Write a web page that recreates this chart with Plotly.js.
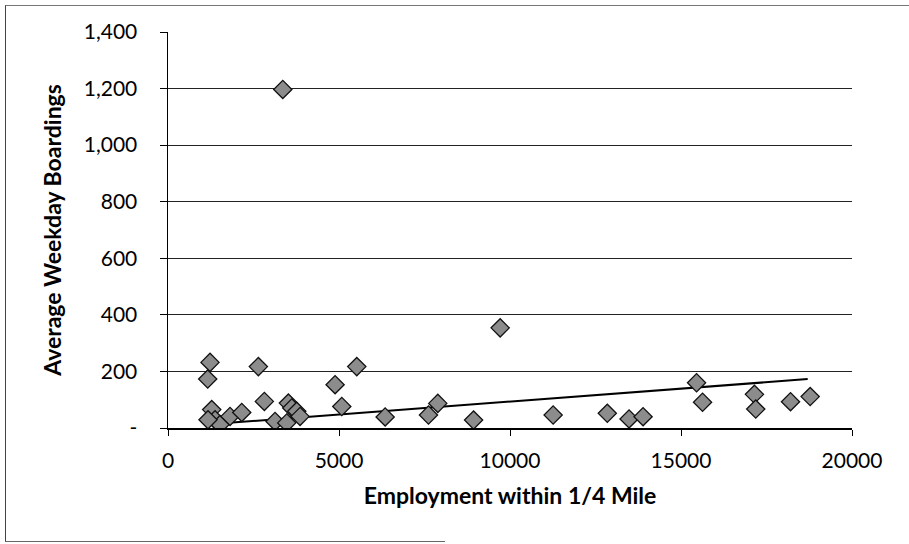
<!DOCTYPE html>
<html>
<head>
<meta charset="utf-8">
<script src="https://cdn.plot.ly/plotly-3.0.1.min.js"></script>
<style>
html,body{margin:0;padding:0;background:#fff;}
#wrap{position:relative;width:909px;height:544px;}
#chart{width:909px;height:544px;}
#frame{position:absolute;left:5px;top:5px;width:904px;height:537px;border-left:1px solid #444;border-top:1px solid #777;box-sizing:border-box;pointer-events:none;}
#bottom{position:absolute;left:5px;top:541px;width:440px;height:0;border-top:1px solid #666;pointer-events:none;}
</style>
</head>
<body>
<div id="wrap"><div id="chart"></div><div id="frame"></div><div id="bottom"></div></div>
<script>
// Employment within 1/4 mile (x) vs average weekday boardings (y)
const employment = [3356, 9713, 1229, 1161, 2642, 5520, 4886, 5081, 2818, 6349,
  1278, 1375, 1521, 1814, 2156, 1170, 3130, 3520, 3619, 3765, 3862, 3472,
  7616, 7889, 8935, 11261, 12845, 13481, 13891, 15455, 15630, 17147, 17185, 18202, 18777];
const boardings = [1197, 354, 232, 173, 217, 217, 153, 76, 94, 39,
  65, 29, 12, 41, 55, 29, 23, 88, 71, 59, 41, 18,
  46, 87, 28, 46, 52, 32, 40, 160, 91, 119, 67, 93, 111];
// Linear trendline endpoints
const trendX = [1082, 18705];
const trendY = [12, 173];
const yTickVals = [0, 200, 400, 600, 800, 1000, 1200, 1400];
const yTickText = ['-', '200', '400', '600', '800', '1,000', '1,200', '1,400'];
const xTickVals = [0, 5000, 10000, 15000, 20000];
const xTickText = ['0', '5000', '10000', '15000', '20000'];

const font = 'Lato, "Open Sans", sans-serif';

const traces = [
  {
    x: trendX, y: trendY, type: 'scatter', mode: 'lines',
    line: {color: '#000', width: 2}, hoverinfo: 'skip', showlegend: false
  },
  {
    x: employment, y: boardings, type: 'scatter', mode: 'markers',
    marker: {symbol: 'diamond', size: 14, color: '#8c8c8c', line: {color: '#111', width: 1.3}},
    showlegend: false
  }
];

const layout = {
  width: 909, height: 544,
  margin: {l: 168, r: 57, t: 32, b: 116},
  paper_bgcolor: '#fff', plot_bgcolor: '#fff',
  font: {family: font, color: '#000', size: 21},
  xaxis: {
    range: [0, 20000], tickvals: xTickVals, ticktext: xTickText,
    showgrid: false, zeroline: false, showline: true, linecolor: '#000', linewidth: 1.5,
    ticks: 'outside', ticklen: 6, tickcolor: '#000', ticklabelstandoff: 7,
    tickfont: {family: font, size: 21},
    title: {text: '<b>Employment within 1/4 Mile</b>', font: {family: font, size: 23}, standoff: 17}
  },
  yaxis: {
    range: [0, 1400], tickvals: yTickVals, ticktext: yTickText,
    showgrid: true, gridcolor: '#222', gridwidth: 1,
    zeroline: false, showline: true, linecolor: '#000', linewidth: 1.5,
    ticks: 'outside', ticklen: 7, tickcolor: '#000', ticklabelstandoff: 18,
    tickfont: {family: font, size: 21},
    title: {text: '<b>Average Weekday Boardings</b>', font: {family: font, size: 23}, standoff: 15}
  }
};

Plotly.newPlot('chart', traces, layout, {staticPlot: true});
</script>
</body>
</html>
